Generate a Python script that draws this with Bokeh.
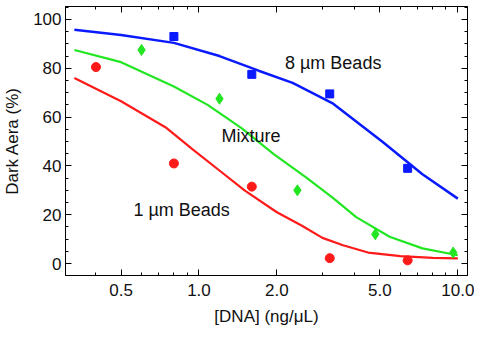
from bokeh.plotting import figure
from bokeh.models import (LogAxis, LinearAxis, FixedTicker, Label,
                          PrintfTickFormatter, CustomJSTickFormatter)
from bokeh.embed import file_html
from bokeh.resources import INLINE

# measured points
x_8um = [0.8, 1.6, 3.2, 6.4]
y_8um = [93, 77.5, 69.5, 39]
x_mix = [0.6, 1.2, 2.4, 4.8, 9.6]
y_mix = [87.5, 67.5, 30, 12, 4.5]
x_1um = [0.4, 0.8, 1.6, 3.2, 6.4]
y_1um = [80.5, 41, 31.5, 2.2, 1.3]

# fitted curves
fit_x_8um = [0.33, 0.5, 0.8, 1.2, 1.7, 2.3, 3.3, 5.1, 7.3, 10]
fit_y_8um = [95.8, 93.6, 90.4, 85, 79, 74, 65.5, 50, 36.6, 26.6]
fit_x_mix = [0.33, 0.5, 0.8, 1.08, 1.46, 1.95, 2.6, 3.3, 4.05, 5.45, 7.3, 10]
fit_y_mix = [87.5, 82.5, 72.5, 65, 55.5, 44.7, 35.2, 26.8, 19, 11, 6.2, 3.4]
fit_x_1um = [0.33, 0.5, 0.75, 0.94, 1.22, 1.5, 2.0, 2.5, 3.0, 3.6, 4.5, 6.0, 8.0, 10]
fit_y_1um = [76, 66.5, 55.5, 47, 37.5, 30, 21, 15.5, 10.5, 7.5, 4.5, 3, 2.3, 2.1]

x_ticks = [0.5, 1, 2, 5, 10]
x_minor = [0.4, 0.6, 0.7, 0.8, 0.9, 3, 4, 6, 7, 8, 9]
y_ticks = [0, 20, 40, 60, 80, 100]
y_minor = [v for v in range(-5, 106, 5)]

x_lo, x_hi = 0.305, 10.9
y_lo, y_hi = -4.9, 105.3

p = figure(x_axis_type="log", x_range=(x_lo, x_hi), y_range=(y_lo, y_hi),
           width=474, height=328,
           min_border_left=61, min_border_right=7, min_border_top=6,
           min_border_bottom=51,
           output_backend="svg", toolbar_location=None)
p.grid.visible = False
p.outline_line_color = "black"

xt = FixedTicker(ticks=x_ticks, minor_ticks=x_minor)
yt = FixedTicker(ticks=y_ticks, minor_ticks=y_minor)

def style(ax):
    ax.axis_line_color = "black"
    ax.major_tick_in = 6
    ax.major_tick_out = 0
    ax.minor_tick_in = 3
    ax.minor_tick_out = 0
    ax.major_tick_line_color = "black"
    ax.minor_tick_line_color = "black"
    ax.major_label_text_font_size = "17px"
    ax.major_label_text_color = "#111111"
    ax.axis_label_text_font_size = "17px"
    ax.axis_label_text_font_style = "normal"
    ax.axis_label_text_color = "#111111"

xa = p.xaxis[0]
xa.ticker = xt
xa.formatter = PrintfTickFormatter(format="%.1f")
xa.axis_label = "[DNA] (ng/\u03bcL)"
style(xa)
xa.major_label_standoff = 8
xa.axis_label_standoff = 8

ya = p.yaxis[0]
ya.ticker = yt
ya.axis_label = "Dark Aera (%)"
style(ya)
ya.major_label_standoff = 4
ya.axis_label_standoff = 8

top = LogAxis(ticker=xt, formatter=CustomJSTickFormatter(code="return ''"))
style(top)
top.major_label_standoff = 0
right = LinearAxis(ticker=yt, formatter=CustomJSTickFormatter(code="return ''"))
style(right)
right.major_label_standoff = 0
p.add_layout(top, "above")
p.add_layout(right, "right")

BLUE = "#0a1aff"
GREEN = "#22e622"
RED = "#ff1a1a"

p.line(fit_x_8um, fit_y_8um, line_color=BLUE, line_width=2.5)
p.line(fit_x_mix, fit_y_mix, line_color=GREEN, line_width=2.2)
p.line(fit_x_1um, fit_y_1um, line_color=RED, line_width=2.2)

p.scatter(x_8um, y_8um, marker="square", size=8, fill_color=BLUE, line_color=BLUE)
p.scatter(x_mix, y_mix, marker="diamond", size=11, fill_color=GREEN, line_color=GREEN)
p.scatter(x_1um, y_1um, marker="circle", size=9, fill_color=RED, line_color=RED)

for txt, x, y in [("8 \u00b5m Beads", 3.3, 82.3), ("Mixture", 1.59, 52.1),
                  ("1 \u00b5m Beads", 0.857, 22.1)]:
    p.add_layout(Label(x=x, y=y, text=txt, text_align="center",
                       text_baseline="middle",
                       text_font_size="18px", text_color="#111111"))

open("out.html", "w").write(file_html(p, INLINE))
